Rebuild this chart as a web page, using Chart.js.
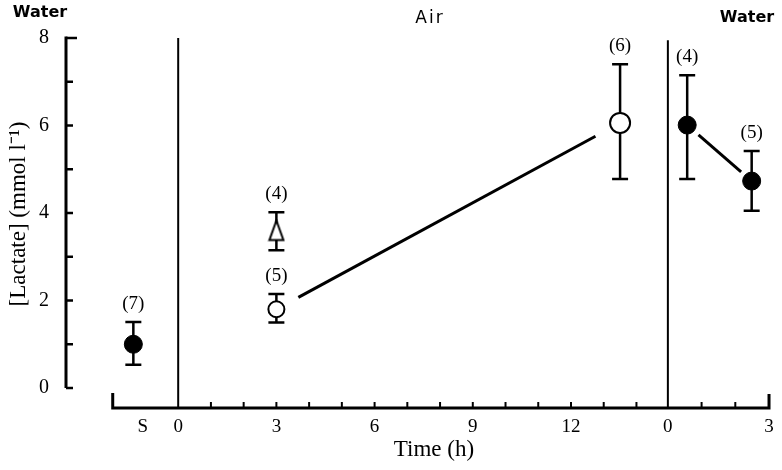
<!DOCTYPE html>
<html>
<head>
<meta charset="utf-8">
<script src="https://cdn.jsdelivr.net/npm/chart.js@4.4.1/dist/chart.umd.min.js"></script>
<style>
  html, body { margin: 0; padding: 0; background: #fff; }
  #wrap { width: 782px; height: 470px; }
</style>
</head>
<body>
<div id="wrap"><canvas id="grafico" width="782" height="470"></canvas></div>
<script>
// fish in water (filled) and in air (open), time axis in hours
const waterX = [-1.37, 15.55, 17.52];
const waterY = [1.0, 6.01, 4.73];
const waterLo = [0.53, 4.78, 4.05];
const waterHi = [1.51, 7.15, 5.42];
const waterN = ["(7)", "(4)", "(5)"];

const airX = [3, 13.5];
const airY = [1.8, 6.06];
const airLo = [1.5, 4.78];
const airHi = [2.15, 7.4];
const airN = ["(5)", "(6)"];

const triX = [3];
const triY = [3.6];
const triLo = [3.15];
const triHi = [4.02];
const triN = ["(4)"];

// where the medium changes (air exposure start, return to water)
const transfers = [0, 14.96];

const xTickVals = [-1.08, 0, 3, 6, 9, 12, 14.96, 18.05];
const xTickLabels = ["S", "0", "3", "6", "9", "12", "0", "3"];
const hourTicks = [1, 2, 3, 4, 5, 6, 7, 8, 9, 10, 11, 12, 13, 14, 15.99, 17.02];
const xAxisStart = -2.0;
const xAxisEnd = 18.05;

const yTickVals = [0, 2, 4, 6, 8];
const yMinorVals = [1, 3, 5, 7];

const SERIF = "'Liberation Serif', 'Times New Roman', serif";

// open narrow triangle marker
const triCanvas = document.createElement("canvas");
triCanvas.width = 18; triCanvas.height = 24;
(function () {
  const c = triCanvas.getContext("2d");
  c.fillStyle = "#fff";
  c.strokeStyle = "#000";
  c.lineWidth = 2;
  c.beginPath();
  c.moveTo(9, 2);
  c.lineTo(16, 21.5);
  c.lineTo(2, 21.5);
  c.closePath();
  c.fill();
  c.stroke();
})();

function pts(xs, ys) {
  return xs.map((x, i) => ({ x: x, y: ys[i] }));
}

const extras = {
  id: "extras",
  beforeDatasetsDraw(chart) {
    const ctx = chart.ctx;
    const xs = chart.scales.x, ys = chart.scales.y;
    const area = chart.chartArea;
    ctx.save();
    ctx.strokeStyle = "#000";
    ctx.lineCap = "butt";

    // vertical transfer lines
    ctx.lineWidth = 2;
    transfers.forEach((t, i) => {
      const px = xs.getPixelForValue(t);
      ctx.beginPath();
      ctx.moveTo(px, ys.getPixelForValue(i === 0 ? 8 : 7.95));
      ctx.lineTo(px, area.bottom);
      ctx.stroke();
    });

    // y axis
    const yAx = area.left + 1;
    ctx.lineWidth = 3;
    ctx.beginPath();
    ctx.moveTo(yAx, ys.getPixelForValue(0));
    ctx.lineTo(yAx, ys.getPixelForValue(8) - 1.5);
    ctx.stroke();
    ctx.lineWidth = 2.5;
    yTickVals.concat(yMinorVals).forEach(v => {
      const py = ys.getPixelForValue(v);
      ctx.beginPath();
      ctx.moveTo(yAx, py);
      ctx.lineTo(yAx + (v === 8 ? 11 : 7), py);
      ctx.stroke();
    });

    // x axis
    const xb = area.bottom;
    const x0 = xs.getPixelForValue(xAxisStart);
    const x1 = xs.getPixelForValue(xAxisEnd);
    ctx.lineWidth = 3;
    ctx.beginPath();
    ctx.moveTo(x0, xb - 15);
    ctx.lineTo(x0, xb);
    ctx.lineTo(x1, xb);
    ctx.lineTo(x1, xb - 14);
    ctx.stroke();
    ctx.lineWidth = 2;
    hourTicks.forEach(v => {
      const px = xs.getPixelForValue(v);
      ctx.beginPath();
      ctx.moveTo(px, xb);
      ctx.lineTo(px, xb - 6);
      ctx.stroke();
    });

    // error bars
    const bar = (xv, lo, hi) => {
      ctx.lineWidth = 2.5;
      xv.forEach((x, i) => {
        const px = xs.getPixelForValue(x);
        const pLo = ys.getPixelForValue(lo[i]);
        const pHi = ys.getPixelForValue(hi[i]);
        ctx.beginPath();
        ctx.moveTo(px, pLo);
        ctx.lineTo(px, pHi);
        ctx.moveTo(px - 8, pLo);
        ctx.lineTo(px + 8, pLo);
        ctx.moveTo(px - 8, pHi);
        ctx.lineTo(px + 8, pHi);
        ctx.stroke();
      });
    };
    bar(waterX, waterLo, waterHi);
    bar(airX, airLo, airHi);
    bar(triX, triLo, triHi);

    // connecting lines, kept clear of the markers
    const link = (xa, ya, xb2, yb2, gapA, gapB) => {
      const ax = xs.getPixelForValue(xa), ay = ys.getPixelForValue(ya);
      const bx = xs.getPixelForValue(xb2), by = ys.getPixelForValue(yb2);
      const len = Math.hypot(bx - ax, by - ay);
      const ux = (bx - ax) / len, uy = (by - ay) / len;
      ctx.lineWidth = 3;
      ctx.beginPath();
      ctx.moveTo(ax + ux * gapA, ay + uy * gapA);
      ctx.lineTo(bx - ux * gapB, by - uy * gapB);
      ctx.stroke();
    };
    link(airX[0], airY[0], airX[1], airY[1], 25, 28);
    link(waterX[1], waterY[1], waterX[2], waterY[2], 15, 14);

    // sample sizes
    ctx.fillStyle = "#000";
    ctx.font = "19px " + SERIF;
    ctx.textAlign = "center";
    ctx.textBaseline = "middle";
    const nLab = (xv, hi, n) => xv.forEach((x, i) => {
      ctx.fillText(n[i], xs.getPixelForValue(x), ys.getPixelForValue(hi[i]) - 18);
    });
    nLab(waterX, waterHi, waterN);
    nLab(airX, airHi, airN);
    nLab(triX, triHi, triN);

    // axis titles
    ctx.font = "23px " + SERIF;
    ctx.fillText("Time (h)", 434, 450);
    ctx.save();
    ctx.translate(19, 214);
    ctx.rotate(-Math.PI / 2);
    ctx.fillText("[Lactate] (mmol l\u207B\u00B9)", 0, 0);
    ctx.restore();

    // medium labels
    ctx.font = "bold 16px 'DejaVu Sans', sans-serif";
    ctx.fillText("Water", 40, 13);
    ctx.fillText("Water", 747, 18);
    ctx.font = "17px 'DejaVu Sans', sans-serif";
    ctx.letterSpacing = "2px";
    ctx.fillText("Air", 430, 19);
    ctx.restore();
  }
};

const ctx = document.getElementById("grafico").getContext("2d");
new Chart(ctx, {
  type: "scatter",
  data: {
    datasets: [
      {
        label: "Water",
        data: pts(waterX, waterY),
        pointStyle: "circle",
        pointRadius: 9,
        backgroundColor: "#000",
        borderColor: "#000",
        borderWidth: 1
      },
      {
        label: "Air",
        data: pts(airX, airY),
        pointStyle: "circle",
        pointRadius: [8, 10],
        backgroundColor: "#fff",
        borderColor: "#000",
        borderWidth: 2
      },
      {
        label: "Air (triangle)",
        data: pts(triX, triY),
        pointStyle: triCanvas,
        backgroundColor: "#fff",
        borderColor: "#000"
      }
    ]
  },
  options: {
    responsive: false,
    animation: false,
    events: [],
    layout: { padding: { top: 38, right: 1, left: 0, bottom: 0 } },
    plugins: { legend: { display: false }, tooltip: { enabled: false } },
    scales: {
      x: {
        type: "linear",
        min: -3.458,
        max: 18.08,
        grid: { display: false },
        border: { display: false },
        afterBuildTicks: s => { s.ticks = xTickVals.map(v => ({ value: v })); },
        afterFit: s => { s.height = 62; s.paddingLeft = 0; s.paddingRight = 0; },
        ticks: {
          autoSkip: false,
          maxRotation: 0,
          padding: 0,
          color: "#000",
          font: { family: SERIF, size: 19 },
          callback: (v, i) => xTickLabels[i]
        }
      },
      y: {
        min: -0.457,
        max: 8,
        grid: { display: false },
        border: { display: false },
        afterBuildTicks: s => { s.ticks = yTickVals.map(v => ({ value: v })); },
        afterFit: s => { s.width = 65; s.paddingTop = 0; s.paddingBottom = 0; },
        ticks: {
          padding: 8,
          color: "#000",
          font: { family: SERIF, size: 20 },
          callback: v => String(v)
        }
      }
    }
  },
  plugins: [extras]
});
</script>
</body>
</html>
